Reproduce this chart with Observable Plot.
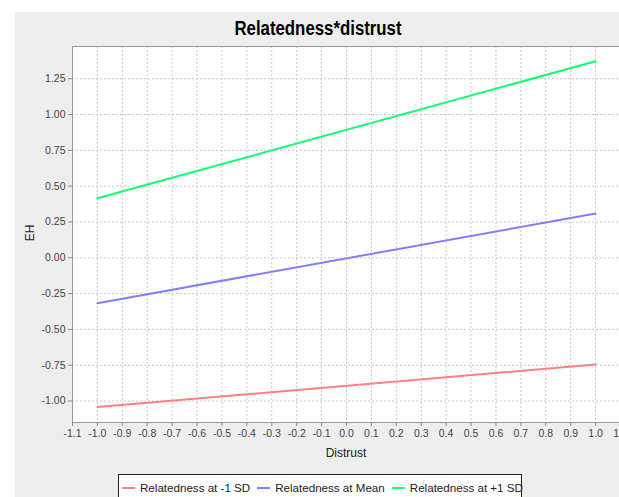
<!DOCTYPE html>
<html>
<head>
<meta charset="utf-8">
<script src="https://cdn.jsdelivr.net/npm/d3@7"></script>
<script src="https://cdn.jsdelivr.net/npm/@observablehq/plot@0.6"></script>
<style>
  html, body { margin: 0; padding: 0; background: #fff; overflow: hidden; }
  #wrap { position: relative; width: 619px; height: 497px; overflow: hidden; background: #fff; font-family: "Liberation Sans", Arial, sans-serif; }
  #panel { position: absolute; left: 15px; top: 12px; width: 640px; height: 520px; background: #eeeeee; }
  #chart { position: absolute; left: 0; top: 0; width: 640px; height: 497px; }
  #chart svg { max-width: none !important; width: 640px; height: 497px; }
  #title { position: absolute; left: 168px; width: 300px; top: 18px; text-align: center; font-weight: bold; font-size: 20px; line-height: 20px; color: #000; transform: scaleX(0.84); }
  .lab { position: absolute; font-size: 12px; color: #222; }
  #legend { position: absolute; left: 118px; top: 474px; width: 404px; height: 28px; border: 1px solid #222; background: #fff; display: flex; align-items: flex-start; padding-top: 6px; box-sizing: border-box; font-size: 11.6px; color: #222; }
  .item { display: flex; align-items: center; margin-left: 3px; margin-right: 4px; white-space: nowrap; }
  .seg { width: 13px; height: 2px; margin-right: 5px; }
</style>
</head>
<body>
<div id="wrap">
  <div id="panel"></div>
  <div id="chart"></div>
  <div id="title">Relatedness*distrust</div>
  <div class="lab" id="ylab" style="left:22px; top:226px; transform: rotate(-90deg); transform-origin: center;">EH</div>
  <div class="lab" id="xlab" style="left:322px; top:446px; width:48px; text-align:center;">Distrust</div>
  <div id="legend"></div>
</div>
<script>
// Data
const distrust = [-1.0, 1.0];
const seriesNames = ["Relatedness at -1 SD", "Relatedness at Mean", "Relatedness at +1 SD"];
const seriesColors = ["#ff8080", "#7f7fff", "#10ff70"];
const lowSD = [-1.042, -0.745];
const meanVals = [-0.317, 0.309];
const highSD = [0.415, 1.372];
const xTicks = [-1.1, -1.0, -0.9, -0.8, -0.7, -0.6, -0.5, -0.4, -0.3, -0.2, -0.1, 0.0, 0.1, 0.2, 0.3, 0.4, 0.5, 0.6, 0.7, 0.8, 0.9, 1.0, 1.1];
const yTicks = [-1.0, -0.75, -0.5, -0.25, 0.0, 0.25, 0.5, 0.75, 1.0, 1.25];

const seriesValues = [lowSD, meanVals, highSD];
const data = [];
seriesNames.forEach((name, i) => {
  distrust.forEach((x, j) => data.push({series: name, x, y: seriesValues[i][j]}));
});

const chart = Plot.plot({
  width: 640,
  height: 497,
  marginLeft: 72,
  marginRight: 20,
  marginTop: 46,
  marginBottom: 75,
  style: { background: "transparent", fontFamily: "Liberation Sans, Arial, sans-serif", fontSize: "10.5px", color: "#444", maxWidth: "none" },
  x: { domain: [-1.1, 1.1] },
  y: { domain: [-1.15, 1.475] },
  color: { domain: seriesNames, range: seriesColors },
  marks: [
    Plot.frame({ fill: "#fff", stroke: null }),
    Plot.gridX(xTicks, { stroke: "#c8c8c8", strokeOpacity: 1, strokeDasharray: "2,2" }),
    Plot.gridY(yTicks, { stroke: "#c8c8c8", strokeOpacity: 1, strokeDasharray: "2,2" }),
    Plot.frame({ stroke: "#9a9a9a" }),
    Plot.axisX(xTicks, { tickFormat: d => d.toFixed(1), tickSize: 4, tickPadding: 3, stroke: "#888", label: null, fill: "#444" }),
    Plot.axisY(yTicks, { tickFormat: d => d.toFixed(2), tickSize: 4, tickPadding: 3, stroke: "#888", label: null, fill: "#444" }),
    Plot.line(data, { x: "x", y: "y", stroke: "series", z: "series", strokeWidth: 2 })
  ]
});
chart.style.maxWidth = "none";
document.getElementById("chart").appendChild(chart);

const legend = document.getElementById("legend");
seriesNames.forEach((name, i) => {
  const item = document.createElement("div");
  item.className = "item";
  const seg = document.createElement("span");
  seg.className = "seg";
  seg.style.background = seriesColors[i];
  const txt = document.createElement("span");
  txt.textContent = name;
  item.appendChild(seg);
  item.appendChild(txt);
  legend.appendChild(item);
});
</script>
</body>
</html>
